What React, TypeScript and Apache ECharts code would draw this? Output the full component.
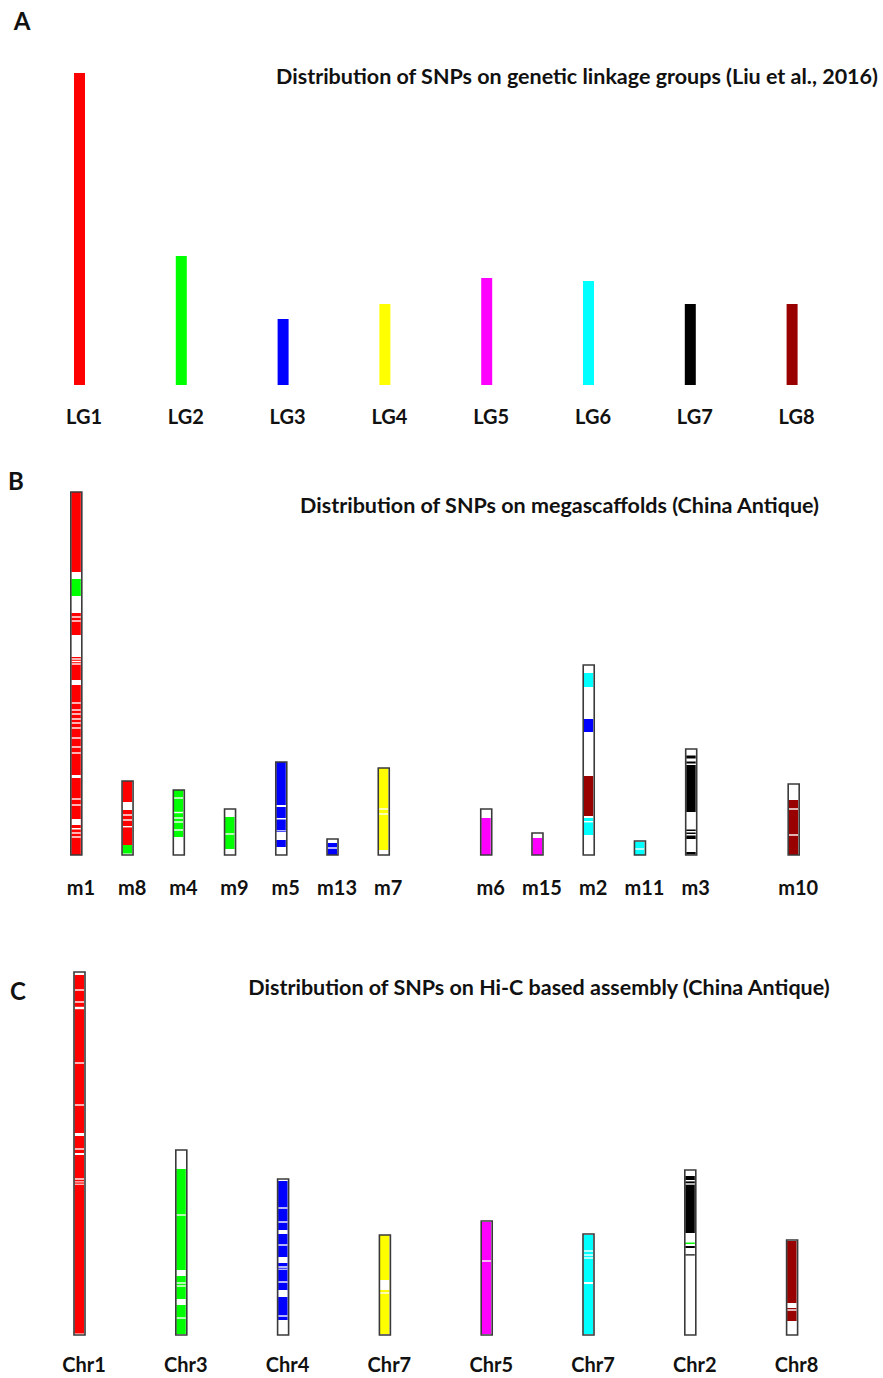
import React, { useEffect, useRef } from "react";
import * as echarts from "echarts";

const FONT = 'Lato, "Open Sans", sans-serif';

const PALETTE: Record<string, string> = {
  red: "#ff0000",
  green: "#00ff00",
  blue: "#0000ff",
  yellow: "#ffff00",
  magenta: "#ff00ff",
  cyan: "#00ffff",
  black: "#000000",
  maroon: "#990000",
};

// ---- A: SNP counts on genetic linkage groups ----
const LG_NAMES = ["LG1", "LG2", "LG3", "LG4", "LG5", "LG6", "LG7", "LG8"];
const LG_LENGTHS = [312, 129, 66, 81, 107, 104, 81, 81];
const LG_COLORS = ["red", "green", "blue", "yellow", "magenta", "cyan", "black", "maroon"];

// ---- B: megascaffolds (empty names are spacer slots) ----
const MEGA_NAMES = ["m1", "m8", "m4", "m9", "m5", "m13", "m7", "", "m6", "m15", "m2", "m11", "m3", "", "m10"];
const MEGA_LENGTHS = [363, 74, 65, 46, 93, 16, 87, null, 46, 22, 190, 14, 106, null, 71];
// [slot, from, to, colour]
const MEGA_BANDS: [number, number, number, string][] = [
  [0, 283, 363, "red"], [0, 259, 276, "green"], [0, 220, 242, "red"], [0, 175, 198, "red"], [0, 0, 170, "red"],
  [1, 53, 74, "red"], [1, 10, 45, "red"], [1, 1.5, 10, "green"],
  [2, 18, 65, "green"],
  [3, 6, 38, "green"],
  [4, 50, 93, "blue"], [4, 37, 48, "blue"], [4, 23, 35.5, "blue"], [4, 8, 15, "blue"],
  [5, 0, 12, "blue"],
  [6, 5, 87, "yellow"],
  [8, 0, 37, "magenta"],
  [9, 0, 17, "magenta"],
  [10, 168, 182, "cyan"], [10, 123, 136, "blue"], [10, 39, 79, "maroon"], [10, 20, 37, "cyan"],
  [11, 0, 13, "cyan"],
  [12, 96.5, 99.5, "black"], [12, 91.5, 93.5, "black"], [12, 43, 90, "black"],
  [12, 24, 25.5, "black"], [12, 21, 22.5, "black"], [12, 16, 19.5, "black"], [12, 0.5, 3, "black"],
  [14, 0, 55, "maroon"],
];
// [slot, from, to] SNP-free stretches inside coloured bands
const MEGA_GAPS: [number, number, number][] = [
  [0, 237.3, 238.7], [0, 233.3, 234.7], [0, 195.3, 196.7], [0, 192.8, 194.2], [0, 190.3, 191.7],
  [0, 151.3, 152.7], [0, 144.3, 145.7], [0, 140.3, 141.7], [0, 135.3, 136.7], [0, 131.3, 132.7],
  [0, 126.3, 127.7], [0, 116.3, 117.7], [0, 107.3, 108.7], [0, 101.3, 102.7], [0, 77, 80],
  [0, 55.3, 56.7], [0, 49.3, 50.7], [0, 30, 36], [0, 25.5, 27], [0, 21.3, 22.7], [0, 17.3, 18.7],
  [1, 39.3, 40.7], [1, 34.3, 35.7], [1, 27.6, 29],
  [2, 56.3, 57.7], [2, 41.8, 43.2], [2, 36.3, 37.7], [2, 32.3, 33.7], [2, 24.3, 25.7],
  [3, 20.3, 21.7],
  [4, 23.7, 24.7],
  [5, 6.3, 7.7],
  [6, 45.3, 46.7], [6, 40.3, 41.7],
  [10, 32.6, 34],
  [11, 5.3, 6.7],
  [14, 45.3, 46.7], [14, 19.3, 20.7],
];

// ---- C: Hi-C pseudo-chromosomes ----
const CHR_NAMES = ["Chr1", "Chr3", "Chr4", "Chr7", "Chr5", "Chr7", "Chr2", "Chr8"];
const CHR_LENGTHS = [363, 185, 156, 100, 114, 101, 165, 95];
const CHR_BANDS: [number, number, number, string][] = [
  [0, 1.5, 360, "red"],
  [1, 1, 166, "green"],
  [2, 15, 154, "blue"],
  [3, 1, 100, "yellow"],
  [4, 1, 113, "magenta"],
  [5, 1, 100, "cyan"],
  [6, 102, 159, "black"], [6, 91, 92.5, "green"], [6, 87, 89, "black"], [6, 79.5, 80.7, "black"],
  [7, 14, 94, "maroon"],
];
const CHR_GAPS: [number, number, number][] = [
  [0, 344.3, 345.7], [0, 332.3, 333.7], [0, 325.8, 328.2], [0, 271.3, 272.7], [0, 229.3, 230.7],
  [0, 199, 202], [0, 185.3, 186.7], [0, 180, 182], [0, 155.3, 156.7], [0, 152.6, 153.6], [0, 150.3, 151.3],
  [1, 119.3, 120.7], [1, 59, 65], [1, 51.3, 52.7], [1, 48.3, 49.7], [1, 30, 36], [1, 16.3, 17.7],
  [2, 126.3, 127.7], [2, 112.3, 113.7], [2, 101, 105], [2, 89.3, 90.7], [2, 72, 78], [2, 67.3, 68.7],
  [2, 65.3, 66.3], [2, 52.3, 53.7], [2, 38, 45], [2, 18.3, 19.7],
  [3, 45, 55], [3, 41.3, 42.7],
  [4, 73.3, 74.7],
  [5, 83.3, 84.7], [5, 79.3, 80.7], [5, 76.3, 77.7], [5, 51, 53],
  [6, 153.6, 155], [6, 150.3, 151.7],
  [7, 27, 32], [7, 24.3, 25.7],
];

const BAR_W = 11;

function chromosomeRenderer(
  bands: [number, number, number, string][],
  gaps: [number, number, number][]
) {
  return (_params: any, api: any) => {
    const slot = api.value(0);
    const len = api.value(1);
    const [cx, yBase] = api.coord([slot, 0]);
    const yTop = api.coord([slot, len])[1];
    const x = cx - BAR_W / 2;
    const yOf = (v: number) => api.coord([slot, v])[1];
    const children: any[] = [
      { type: "rect", shape: { x, y: yTop, width: BAR_W, height: yBase - yTop }, style: { fill: "#ffffff" } },
    ];
    bands.forEach((b) => {
      if (b[0] !== slot) return;
      const ya = yOf(b[2]);
      const yb = yOf(b[1]);
      children.push({
        type: "rect",
        shape: { x: x + 0.5, y: ya, width: BAR_W - 1.5, height: yb - ya },
        style: { fill: PALETTE[b[3]] },
      });
    });
    gaps.forEach((g) => {
      if (g[0] !== slot) return;
      const ya = yOf(g[2]);
      const yb = yOf(g[1]);
      children.push({
        type: "rect",
        shape: { x: x + 0.5, y: ya, width: BAR_W - 1.5, height: yb - ya },
        style: { fill: "#ffffff" },
      });
    });
    children.push({
      type: "rect",
      shape: { x, y: yTop, width: BAR_W, height: yBase - yTop },
      style: { fill: "none", stroke: "#3a3a3a", lineWidth: 1.6 },
    });
    return { type: "group", children };
  };
}

function categoryAxis(gridIndex: number, names: string[], margin: number) {
  return {
    type: "category",
    gridIndex,
    data: names,
    axisLine: { show: false },
    axisTick: { show: false },
    splitLine: { show: false },
    axisLabel: {
      interval: 0,
      margin,
      padding: [0, 0, 0, 9],
      fontFamily: FONT,
      fontWeight: "bold",
      fontSize: 20,
      color: "#111111",
    },
  };
}

function valueAxis(gridIndex: number, max: number) {
  return { type: "value", gridIndex, min: 0, max, show: false };
}

const titleText = (text: string, x: number, y: number, size: number) => ({
  type: "text",
  x,
  y,
  style: {
    text,
    fontFamily: FONT,
    fontWeight: "bold",
    fontSize: size,
    fill: "#111111",
    textAlign: "center",
    textVerticalAlign: "middle",
  },
});

export default function App() {
  const ref = useRef<HTMLDivElement>(null);

  useEffect(() => {
    if (!ref.current) return;
    const chart = echarts.init(ref.current, undefined, { renderer: "svg" });

    const megaData = MEGA_LENGTHS.map((len, i) => (len == null ? null : [i, len])).filter(Boolean);
    const chrData = CHR_LENGTHS.map((len, i) => [i, len]);

    chart.setOption({
      animation: false,
      backgroundColor: "#ffffff",
      grid: [
        { left: 28.6, width: 814.4, top: 73, height: 312 },
        { left: 50.7, width: 768.6, top: 492, height: 363 },
        { left: 28.6, width: 814.4, top: 972, height: 363 },
      ],
      xAxis: [
        categoryAxis(0, LG_NAMES, 21),
        categoryAxis(1, MEGA_NAMES, 22),
        categoryAxis(2, CHR_NAMES, 19),
      ],
      yAxis: [valueAxis(0, 312), valueAxis(1, 363), valueAxis(2, 363)],
      series: [
        {
          type: "bar",
          xAxisIndex: 0,
          yAxisIndex: 0,
          barWidth: BAR_W,
          data: LG_LENGTHS.map((v, i) => ({ value: v, itemStyle: { color: PALETTE[LG_COLORS[i]] } })),
        },
        {
          type: "custom",
          xAxisIndex: 1,
          yAxisIndex: 1,
          data: megaData,
          renderItem: chromosomeRenderer(MEGA_BANDS, MEGA_GAPS),
        },
        {
          type: "custom",
          xAxisIndex: 2,
          yAxisIndex: 2,
          data: chrData,
          renderItem: chromosomeRenderer(CHR_BANDS, CHR_GAPS),
        },
      ],
      graphic: [
        titleText("A", 22, 20, 24),
        titleText("B", 16, 480, 24),
        titleText("C", 18, 990, 24),
        titleText("Distribution of SNPs on genetic linkage groups (Liu et al., 2016)", 577, 76, 21.5),
        titleText("Distribution of SNPs on megascaffolds (China Antique)", 559.5, 505, 21.5),
        titleText("Distribution of SNPs on Hi-C based assembly (China Antique)", 539, 987, 21.5),
      ],
    });

    return () => chart.dispose();
  }, []);

  return (
    <div
      ref={ref}
      style={{ position: "fixed", left: 0, top: 0, width: 883, height: 1378, background: "#ffffff" }}
    />
  );
}
